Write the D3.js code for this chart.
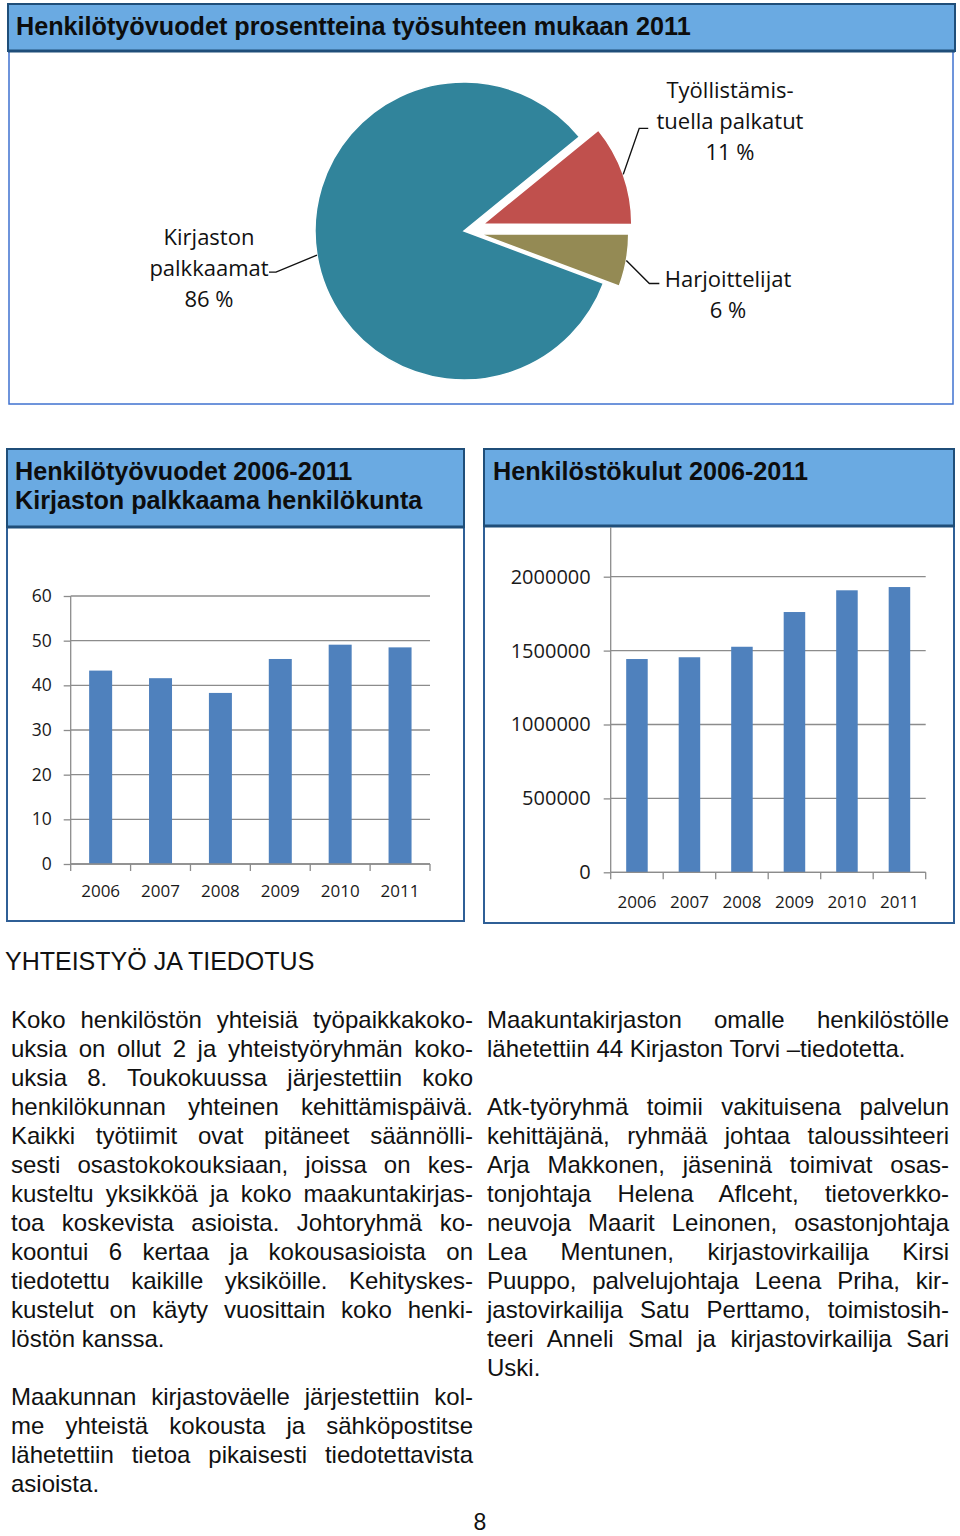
<!DOCTYPE html>
<html><head><meta charset="utf-8">
<script src="https://cdn.jsdelivr.net/npm/d3@7"></script>
<style>body{margin:0;background:#fff} svg{display:block}</style>
</head><body><svg id="c" width="960" height="1536"></svg>
<script>
// ---------- data ----------
const pieCategories = ["Työllistämistuella palkatut", "Harjoittelijat", "Kirjaston palkkaamat"];
const pieValues = [10.9, 5.7, 83.4];
const pieLabelLines = [["Työllistämis-", "tuella palkatut", "11 %"], ["Harjoittelijat", "6 %"], ["Kirjaston", "palkkaamat", "86 %"]];
const years = ["2006", "2007", "2008", "2009", "2010", "2011"];
const personYears = [43.3, 41.6, 38.3, 45.9, 49.1, 48.5];
const personYearTicks = [0, 10, 20, 30, 40, 50, 60];
const staffCosts = [1443000, 1455000, 1526000, 1761000, 1908000, 1930000];
const staffCostTicks = [0, 500000, 1000000, 1500000, 2000000];

const pieTitle = "Henkilötyövuodet prosentteina työsuhteen mukaan 2011";
const leftTitle = ["Henkilötyövuodet 2006-2011", "Kirjaston palkkaama henkilökunta"];
const rightTitle = ["Henkilöstökulut 2006-2011"];
const heading = "YHTEISTYÖ JA TIEDOTUS";
const leftParas = [
  ["Koko henkilöstön yhteisiä työpaikkakoko-", "uksia on ollut 2 ja yhteistyöryhmän koko-", "uksia 8. Toukokuussa järjestettiin koko", "henkilökunnan yhteinen kehittämispäivä.", "Kaikki työtiimit ovat pitäneet säännölli-", "sesti osastokokouksiaan, joissa on kes-", "kusteltu yksikköä ja koko maakuntakirjas-", "toa koskevista asioista. Johtoryhmä ko-", "koontui 6  kertaa ja kokousasioista on", "tiedotettu kaikille yksiköille. Kehityskes-", "kustelut on käyty vuosittain koko henki-", "löstön kanssa."],
  ["Maakunnan kirjastoväelle järjestettiin kol-", "me yhteistä kokousta ja sähköpostitse", "lähetettiin tietoa pikaisesti tiedotettavista", "asioista."]
];
const rightParas = [
  ["Maakuntakirjaston omalle henkilöstölle", "lähetettiin 44 Kirjaston Torvi –tiedotetta."],
  ["Atk-työryhmä toimii vakituisena palvelun", "kehittäjänä, ryhmää johtaa taloussihteeri", "Arja Makkonen, jäseninä toimivat osas-", "tonjohtaja Helena Aflceht, tietoverkko-", "neuvoja Maarit Leinonen, osastonjohtaja", "Lea Mentunen, kirjastovirkailija Kirsi", "Puuppo, palvelujohtaja Leena Priha, kir-", "jastovirkailija Satu Perttamo, toimistosih-", "teeri Anneli Smal ja kirjastovirkailija Sari", "Uski."]
];
const pageNumber = "8";

// ---------- styles ----------
const svg = d3.select("#c");
const HEAD_FILL = "#6aaae2", HEAD_STROKE = "#1f4e79", PANEL_STROKE = "#2f5f96";
const PIE_COLORS = ["#c0504d", "#948a54", "#31849b"];
const BAR = "#4f81bd", GRID = "#8c8c8c";
const TITLE_FONT = "'Liberation Sans', Arial, sans-serif";
const LABEL_FONT = "'Open Sans', sans-serif";

svg.append("rect").attr("width", 960).attr("height", 1536).attr("fill", "#fff");

// panels
svg.append("rect").attr("x", 9).attr("y", 51).attr("width", 944).attr("height", 353)
  .attr("fill", "none").attr("stroke", "#3f72cf").attr("stroke-width", 1.5);
svg.append("rect").attr("x", 7).attr("y", 527).attr("width", 457).attr("height", 394)
  .attr("fill", "none").attr("stroke", PANEL_STROKE).attr("stroke-width", 2);
svg.append("rect").attr("x", 484).attr("y", 526).attr("width", 470).attr("height", 397)
  .attr("fill", "none").attr("stroke", PANEL_STROKE).attr("stroke-width", 2);

function header(x, y, w, h, lines, tx, ty) {
  svg.append("rect").attr("x", x).attr("y", y).attr("width", w).attr("height", h)
    .attr("fill", HEAD_FILL).attr("stroke", HEAD_STROKE).attr("stroke-width", 2);
  svg.append("line").attr("x1", x).attr("x2", x + w).attr("y1", y + h).attr("y2", y + h)
    .attr("stroke", HEAD_STROKE).attr("stroke-width", 3);
  lines.forEach((t, i) => svg.append("text").attr("x", tx).attr("y", ty + i * 29)
    .attr("font-family", TITLE_FONT).attr("font-weight", "bold").attr("font-size", 25.2)
    .attr("fill", "#0d0d0d").text(t));
}
header(8, 4, 947, 47, [pieTitle], 16, 34.5);
header(7, 449, 457, 78, leftTitle, 15, 480);
header(484, 449, 470, 77, rightTitle, 493, 480);

// ---------- pie ----------
const cx = 464, cy = 231, R = 149;
const explode = [20, 16, 0];
const pieStart = 50.8 * Math.PI / 180;
const pie = d3.pie().sort(null).startAngle(pieStart).endAngle(pieStart + 2 * Math.PI);
const arcs = pie(pieValues);
const arc = d3.arc().innerRadius(0).outerRadius(R);
const gp = svg.append("g").attr("transform", `translate(${cx},${cy})`);
gp.selectAll("path").data(arcs).join("path")
  .attr("d", arc)
  .attr("fill", (d, i) => PIE_COLORS[i])
  .attr("stroke", "#fff").attr("stroke-width", 1.5)
  .attr("transform", (d, i) => {
    const m = (d.startAngle + d.endAngle) / 2;
    return `translate(${Math.sin(m) * explode[i]},${-Math.cos(m) * explode[i]})`;
  });

// leader lines + labels
const leaderElbow = [[16, -46, 9], [23, 23, 10], [-41, 17, -7]];
const labelPos = [[730, 97.5], [728, 286.5], [209, 245]];
arcs.forEach((d, i) => {
  const m = (d.startAngle + d.endAngle) / 2;
  const ox = Math.sin(m) * explode[i], oy = -Math.cos(m) * explode[i];
  const sx = cx + ox + Math.sin(m) * R, sy = cy + oy - Math.cos(m) * R;
  const [ex, ey, hx] = leaderElbow[i];
  svg.append("path")
    .attr("d", `M${sx},${sy}L${sx + ex},${sy + ey}L${sx + ex + hx},${sy + ey}`)
    .attr("fill", "none").attr("stroke", "#111").attr("stroke-width", 1.4);
  const t = svg.append("text").attr("font-family", LABEL_FONT).attr("font-size", 22)
    .attr("fill", "#111").attr("text-anchor", "middle");
  pieLabelLines[i].forEach((ln, j) => t.append("tspan").attr("x", labelPos[i][0])
    .attr("y", labelPos[i][1] + j * 31).text(ln));
});

// ---------- bar charts ----------
function barChart(opts) {
  const { values, ticks, x0, x1, y0, yTop, axisTop, barFrac, yFont, xFont, xLabelDy, tickPad } = opts;
  const n = years.length;
  const x = d3.scaleBand().domain(years).range([x0, x1])
    .paddingInner(1 - barFrac).paddingOuter((1 - barFrac) / 2);
  const y = d3.scaleLinear().domain([0, d3.max(ticks)]).range([y0, yTop]);
  const g = svg.append("g");
  g.selectAll("line.grid").data(ticks).join("line")
    .attr("x1", x0).attr("x2", x1).attr("y1", d => y(d)).attr("y2", d => y(d))
    .attr("stroke", GRID).attr("stroke-width", 1.3);
  g.selectAll("rect.bar").data(values).join("rect")
    .attr("x", (d, i) => x(years[i])).attr("width", x.bandwidth())
    .attr("y", d => y(d)).attr("height", d => y(0) - y(d)).attr("fill", BAR);
  const ya = g.append("g").attr("transform", `translate(${x0},0)`)
    .call(d3.axisLeft(y).tickValues(ticks).tickSize(7).tickPadding(tickPad).tickFormat(d3.format("d")));
  ya.select(".domain").remove();
  ya.selectAll(".tick line").attr("stroke", GRID).attr("stroke-width", 1.3);
  ya.selectAll(".tick text").attr("font-family", LABEL_FONT).attr("font-size", yFont).attr("fill", "#1a1a1a");
  g.append("line").attr("x1", x0).attr("x2", x0).attr("y1", axisTop).attr("y2", y0)
    .attr("stroke", GRID).attr("stroke-width", 1.3);
  const step = x.step();
  g.append("line").attr("x1", x0).attr("x2", x1).attr("y1", y0).attr("y2", y0)
    .attr("stroke", GRID).attr("stroke-width", 1.3);
  g.selectAll("line.xt").data(d3.range(n + 1)).join("line")
    .attr("x1", i => x0 + i * step).attr("x2", i => x0 + i * step)
    .attr("y1", y0).attr("y2", y0 + 7).attr("stroke", GRID).attr("stroke-width", 1.3);
  g.selectAll("text.xl").data(years).join("text")
    .attr("x", d => x(d) + x.bandwidth() / 2).attr("y", y0 + xLabelDy)
    .attr("dy", "0.35em").attr("text-anchor", "middle")
    .attr("font-family", LABEL_FONT).attr("font-size", xFont).attr("fill", "#1a1a1a").text(d => d);
}
barChart({ values: personYears, ticks: personYearTicks, x0: 70.7, x1: 430, y0: 864, yTop: 596,
  axisTop: 596, barFrac: 0.384, yFont: 17.5, xFont: 17, xLabelDy: 27, tickPad: 12 });
barChart({ values: staffCosts, ticks: staffCostTicks, x0: 610.7, x1: 925.7, y0: 872.3, yTop: 576.7,
  axisTop: 527, barFrac: 0.41, yFont: 20, xFont: 17, xLabelDy: 30, tickPad: 13 });

// ---------- body text ----------
const BODY_FONT = "'Liberation Sans', Arial, sans-serif";
svg.append("text").attr("x", 5).attr("y", 970).attr("font-family", BODY_FONT)
  .attr("font-size", 25).attr("fill", "#111").text(heading);

function column(paras, x, width, y0, lh) {
  let y = y0;
  paras.forEach(lines => {
    lines.forEach((ln, i) => {
      const txt = ln.replace(/ +/g, " ");
      const t = svg.append("text").attr("x", x).attr("y", y).attr("font-family", BODY_FONT)
        .attr("font-size", 24).attr("fill", "#111").text(txt);
      if (i < lines.length - 1) {
        const w = t.node().getComputedTextLength();
        const spaces = (txt.match(/ /g) || []).length;
        if (spaces) t.attr("word-spacing", (width - w) / spaces);
      }
      y += lh;
    });
    y += lh;
  });
}
column(leftParas, 11, 462, 1028, 29);
column(rightParas, 487, 462, 1028, 29);

svg.append("text").attr("x", 480).attr("y", 1530).attr("text-anchor", "middle")
  .attr("font-family", BODY_FONT).attr("font-size", 23).attr("fill", "#111").text(pageNumber);
</script>
</body></html>
